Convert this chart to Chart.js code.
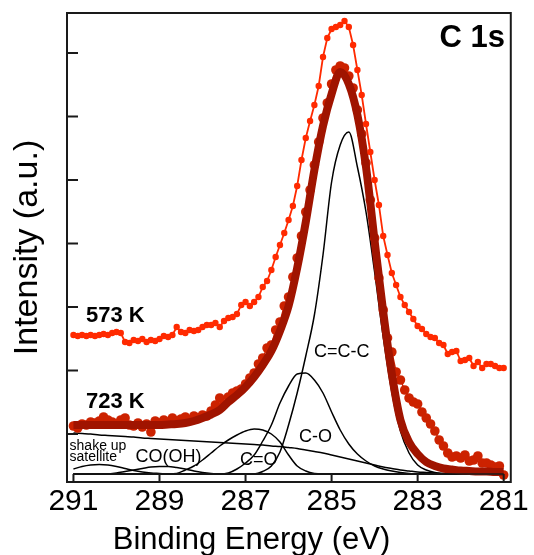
<!DOCTYPE html>
<html>
<head>
<meta charset="utf-8">
<script src="https://cdn.jsdelivr.net/npm/chart.js@4.4.1/dist/chart.umd.min.js"></script>
<style>
  html, body { margin: 0; padding: 0; background: #fff; }
</style>
</head>
<body>
<canvas id="c1s" width="534" height="555"></canvas>
<script>
// C 1s XPS spectra, binding energy in eV, intensity in arbitrary units
const energy = [291.0,290.9,290.8,290.7,290.6,290.5,290.4,290.3,290.2,290.1,
  290.0,289.9,289.8,289.7,289.6,289.5,289.4,289.3,289.2,289.1,
  289.0,288.9,288.8,288.7,288.6,288.5,288.4,288.3,288.2,288.1,
  288.0,287.9,287.8,287.7,287.6,287.5,287.4,287.3,287.2,287.1,
  287.0,286.9,286.8,286.7,286.6,286.5,286.4,286.3,286.2,286.1,
  286.0,285.9,285.8,285.7,285.6,285.5,285.4,285.3,285.2,285.1,
  285.0,284.9,284.8,284.7,284.6,284.5,284.4,284.3,284.2,284.1,
  284.0,283.9,283.8,283.7,283.6,283.5,283.4,283.3,283.2,283.1,
  283.0,282.9,282.8,282.7,282.6,282.5,282.4,282.3,282.2,282.1,
  282.0,281.9,281.8,281.7,281.6,281.5,281.4,281.3,281.2,281.1,
  281.0];

const k573 = [162,161,162,161,162,161,162,163,162,164,
  165,164,155,154,157,156,158,155,157,156,
  158,161,160,162,170,165,164,167,166,167,
  170,172,172,174,170,176,179,180,183,192,
  195,191,195,200,210,216,227,240,252,264,
  277,291,311,337,359,376,392,411,440,459,
  468,470,472,476,470,452,427,402,373,345,
  317,292,261,242,224,212,200,192,185,178,
  171,168,163,160,159,154,152,143,145,146,
  136,137,139,131,135,129,133,133,131,129,
  129];

const k723 = [71,69,73,72,75,74,76,80,77,75,
  73,77,79,72,71,74,70,73,65,76,
  74,77,75,79,76,78,80,77,81,79,
  82,81,86,92,99,93,100,104,106,108,
  113,119,124,133,139,149,152,167,175,191,
  200,220,239,261,285,307,332,355,379,394,
  413,427,431,429,421,409,387,363,334,297,
  259,219,187,159,145,125,117,107,99,95,
  93,85,79,73,66,57,51,44,40,41,
  39,42,36,37,41,34,34,32,30,31,
  22];

// fit curves (723 K), 0.2 eV grid
const fitEnergy = [291.0,290.8,290.6,290.4,290.2,290.0,289.8,289.6,289.4,289.2,289.0,
  288.8,288.6,288.4,288.2,288.0,287.8,287.6,287.4,287.2,287.0,
  286.8,286.6,286.4,286.2,286.0,285.8,285.6,285.4,285.2,285.0,
  284.8,284.6,284.4,284.2,284.0,283.8,283.6,283.4,283.2,283.0,
  282.8,282.6,282.4,282.2,282.0,281.8,281.6,281.4,281.2,281.0];

const envelope = [72,72,72,72,72,72,72,72,72,72,72,
  72.5,73,74,76,79,82.5,87,95,102,110,
  120,132,146,166,191,229,275,327,371,403,
  425,413,382,330,256,185,123,77,55,43,
  35,31,28.5,27.5,26.5,26,25.5,25.5,25,25];

const background = [64,63.5,63,62,61.5,61,60.5,60,59,58.5,58,
  57.5,57,56.5,56,55.5,55,54.5,54,53.5,53,
  52.5,52,51,50.5,49.5,48.5,47,45.5,44,42,
  40,38,36,34,32,30,28.5,27,26,25,
  24.5,24,23.5,23.5,23.5,23,23,23,23,23];

const peakCCC = [23,23,23,23,23,23,23,23,23,23,23,
  23,23,23,23,23,23,23,23,23,23,
  23,25.5,31,45,72,104,141,182,242,315,
  352,365,330,285,225,160,105,66,44,32,
  27,24.5,23.5,23,23,23,23,23,23,23];

const peakCO = [23,23,23,23,23,23,23,23,23,23,23,
  23,23,23,23,23,23,23,24,28,34,
  42,56,72,94,111,123,124,117,104,85,
  67,53,43,36,31,28,26,24.5,23.5,23,
  23,23,23,23,23,23,23,23,23,23];

const peakCdO = [23,23,23,23,23,23,23,23,23,23,23,
  23,23.5,27,31,37,44,51,57,62,66,
  68,67,63,55,42,31,26,23.5,23,23,
  23,23,23,23,23,23,23,23,23,23,
  23,23,23,23,23,23,23,23,23,23];

const peakCOOH = [23,23,23,23,23,24,25.5,27,28.5,30,30.5,
  30.5,29.5,28,26,24.5,23.5,23,23,23,23,
  23,23,23,23,23,23,23,23,23,23,
  23,23,23,23,23,23,23,23,23,23,
  23,23,23,23,23,23,23,23,23,23];

const shakeUp = [28,30.5,32,32.5,32,30.5,28.5,26.5,25,24,23.5,
  23,23,23,23,23,23,23,23,23,23,
  23,23,23,23,23,23,23,23,23,23,
  23,23,23,23,23,23,23,23,23,23,
  23,23,23,23,23,23,23,23,23,23];

const xTicks = [291,289,287,285,283,281];
const yTicks = [63,126.5,190,253.5,317,380.5,444];
const axisBase = 23;

const FONT = "'Liberation Sans', Arial, sans-serif";

const notes = [
  {text: 'C 1s', e: 280.97, v: 450, size: 31, bold: true, align: 'right'},
  {text: '573 K', e: 290.71, v: 175, size: 22, bold: true},
  {text: '723 K', e: 290.71, v: 89, size: 22, bold: true},
  {text: 'C=C-C', e: 285.41, v: 140, size: 18},
  {text: 'C-O', e: 285.76, v: 55, size: 18},
  {text: 'C=O', e: 287.13, v: 32, size: 18},
  {text: 'CO(OH)', e: 289.56, v: 35, size: 18},
  {text: 'shake up', e: 291.09, v: 47, size: 14},
  {text: 'satellite', e: 291.09, v: 36, size: 14}
];

function pts(xs, ys) {
  return xs.map((x, i) => ({x: x, y: ys[i]}));
}

function fitLine(ys, order) {
  return {
    data: pts(fitEnergy, ys),
    borderColor: '#000',
    borderWidth: 1.5,
    pointRadius: 0,
    cubicInterpolationMode: 'monotone',
    order: order
  };
}

const framePlugin = {
  id: 'frame',
  afterDraw(chart) {
    const {ctx, chartArea: a, scales: {x, y}} = chart;
    ctx.save();
    ctx.strokeStyle = '#1a1a1a';
    ctx.lineWidth = 2;
    ctx.strokeRect(a.left, a.top, a.right - a.left, a.bottom - a.top);

    ctx.beginPath();
    yTicks.forEach(v => {
      const py = y.getPixelForValue(v);
      ctx.moveTo(a.left, py);
      ctx.lineTo(a.left + 11, py);
    });
    const base = y.getPixelForValue(axisBase);
    xTicks.forEach(v => {
      const px = x.getPixelForValue(v);
      ctx.moveTo(px, base);
      ctx.lineTo(px, a.bottom);
    });
    ctx.stroke();

    ctx.lineWidth = 1.5;
    ctx.beginPath();
    ctx.moveTo(x.getPixelForValue(xTicks[0]), base);
    ctx.lineTo(x.getPixelForValue(xTicks[xTicks.length - 1]), base);
    ctx.stroke();

    // annotations
    ctx.fillStyle = '#000';
    ctx.textBaseline = 'alphabetic';
    notes.forEach(n => {
      ctx.font = (n.bold ? 'bold ' : '') + n.size + 'px ' + FONT;
      ctx.textAlign = n.align || 'left';
      ctx.fillText(n.text, x.getPixelForValue(n.e), y.getPixelForValue(n.v));
    });

    // x axis title
    ctx.font = '31px ' + FONT;
    ctx.textAlign = 'center';
    ctx.fillText('Binding Energy (eV)', 251.5, 549);
    ctx.restore();
  }
};

new Chart('c1s', {
  type: 'line',
  data: {
    datasets: [
      {
        label: '573 K',
        data: pts(energy, k573),
        borderColor: '#ff2a00',
        backgroundColor: '#ff2a00',
        borderWidth: 1.8,
        pointRadius: 3.2,
        pointBorderWidth: 0,
        order: 1
      },
      {
        label: 'fit',
        data: pts(fitEnergy, envelope),
        borderColor: '#a01400',
        borderWidth: 8,
        pointRadius: 0,
        cubicInterpolationMode: 'monotone',
        order: 2
      },
      {
        label: '723 K',
        data: pts(energy, k723),
        borderColor: '#cc2200',
        backgroundColor: '#cc2200',
        borderWidth: 1.5,
        pointRadius: 4.8,
        pointBorderWidth: 0,
        order: 3
      },
      fitLine(peakCCC, 4),
      fitLine(peakCO, 5),
      fitLine(peakCdO, 6),
      fitLine(peakCOOH, 7),
      fitLine(shakeUp, 8),
      fitLine(background, 9)
    ]
  },
  options: {
    responsive: false,
    animation: false,
    layout: {padding: {top: 13, right: 18, left: 0, bottom: 0}},
    plugins: {
      legend: {display: false},
      tooltip: {enabled: false}
    },
    scales: {
      x: {
        type: 'linear',
        reverse: true,
        min: 280.835,
        max: 291.15,
        grid: {display: false, drawTicks: false},
        border: {display: false},
        afterBuildTicks: s => { s.ticks = xTicks.map(v => ({value: v})); },
        afterFit: s => { s.height = 73; },
        ticks: {
          color: '#000',
          padding: 5,
          maxRotation: 0,
          autoSkip: false,
          font: {family: FONT, size: 30, lineHeight: 1},
          callback: v => String(v)
        }
      },
      y: {
        type: 'linear',
        min: 15,
        max: 484,
        grid: {display: false, drawTicks: false},
        border: {display: false},
        ticks: {display: false},
        afterFit: s => { s.width = 67; },
        title: {
          display: true,
          text: 'Intensity (a.u.)',
          color: '#000',
          font: {family: FONT, size: 34, lineHeight: 1},
          padding: {top: 11, bottom: 0}
        }
      }
    }
  },
  plugins: [framePlugin]
});
</script>
</body>
</html>
